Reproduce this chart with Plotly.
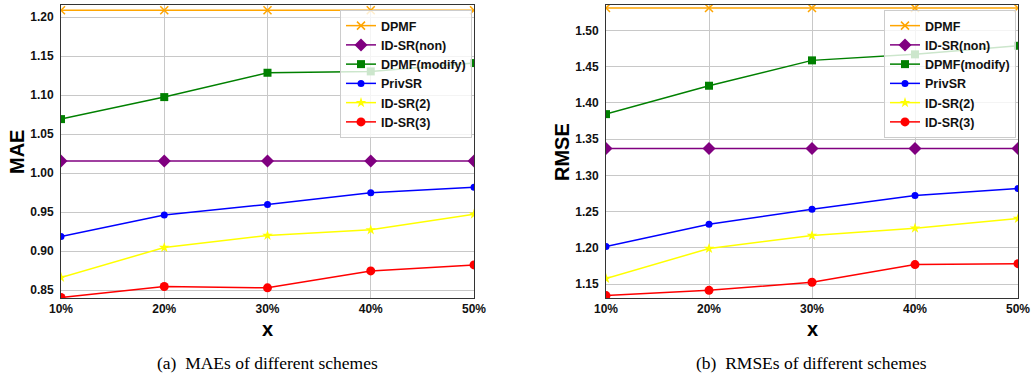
import plotly.graph_objects as go

x_labels = ["10%", "20%", "30%", "40%", "50%"]
series_names = ["DPMF", "ID-SR(non)", "DPMF(modify)", "PrivSR", "ID-SR(2)", "ID-SR(3)"]

mae_dpmf = [1.2086, 1.2086, 1.2086, 1.2086, 1.2086]
mae_idsr_non = [1.0154, 1.0154, 1.0154, 1.0154, 1.0154]
mae_dpmf_mod = [1.0692, 1.0974, 1.1286, 1.1303, 1.1410]
mae_privsr = [0.9188, 0.9462, 0.9599, 0.9747, 0.9820]
mae_idsr2 = [0.8663, 0.9047, 0.9201, 0.9273, 0.9474]
mae_idsr3 = [0.8406, 0.8547, 0.8530, 0.8747, 0.8824]

rmse_dpmf = [1.5308, 1.5308, 1.5308, 1.5308, 1.5308]
rmse_idsr_non = [1.3370, 1.3370, 1.3370, 1.3370, 1.3370]
rmse_dpmf_mod = [1.3844, 1.4236, 1.4586, 1.4669, 1.4787]
rmse_privsr = [1.2017, 1.2324, 1.2531, 1.2720, 1.2817]
rmse_idsr2 = [1.1575, 1.1990, 1.2169, 1.2270, 1.2404]
rmse_idsr3 = [1.1340, 1.1413, 1.1524, 1.1768, 1.1781]

colors = ["#FFA500", "#800080", "#008000", "#0000FF", "#FFFF00", "#FF0000"]
symbols = ["x-thin", "diamond", "square", "circle", "star", "circle"]
msizes = [8, 10, 8, 7, 8, 9]

W, H = 1035, 377
def fx(p): return p / W
def fy(p): return 1 - p / H

fig = go.Figure()

mae_sets = [mae_dpmf, mae_idsr_non, mae_dpmf_mod, mae_privsr, mae_idsr2, mae_idsr3]
rmse_sets = [rmse_dpmf, rmse_idsr_non, rmse_dpmf_mod, rmse_privsr, rmse_idsr2, rmse_idsr3]

def marker(i):
    return dict(symbol=symbols[i], size=msizes[i], color=colors[i],
                line=dict(width=1.5 if symbols[i] == "x-thin" else 0, color=colors[i]))

for i, name in enumerate(series_names):
    fig.add_trace(go.Scatter(x=x_labels, y=mae_sets[i], name=name, mode="lines+markers",
                             line=dict(color=colors[i], width=1.5), marker=marker(i),
                             xaxis="x", yaxis="y", legend="legend"))
for i, name in enumerate(series_names):
    fig.add_trace(go.Scatter(x=x_labels, y=rmse_sets[i], name=name, mode="lines+markers",
                             line=dict(color=colors[i], width=1.5), marker=marker(i),
                             xaxis="x2", yaxis="y2", legend="legend2"))

sans = "Liberation Sans, Arial, sans-serif"
tickfont = dict(family=sans, size=12, color="#111", weight="bold")
axcommon = dict(showgrid=True, gridcolor="#c8c8c8", gridwidth=1, showline=True, linecolor="#333",
                linewidth=1, mirror=True, ticks="", tickfont=tickfont, zeroline=False,
                automargin=False)

legfont = dict(family=sans, size=12.5, color="#111", weight="bold")
fig.update_layout(
    template="none",
    width=W, height=H, margin=dict(l=0, r=0, t=0, b=0, pad=0),
    paper_bgcolor="white", plot_bgcolor="white",
    xaxis=dict(domain=[fx(61), fx(474)], type="category", range=[0, 4], anchor="y", **axcommon),
    yaxis=dict(domain=[fy(298), fy(5)], range=[0.840, 1.2154], dtick=0.05, tickformat=".2f",
               anchor="x", ticklabelstandoff=4, **axcommon),
    xaxis2=dict(domain=[fx(606), fx(1018)], type="category", range=[0, 4], anchor="y2", **axcommon),
    yaxis2=dict(domain=[fy(298), fy(5)], range=[1.1307, 1.535], dtick=0.05, tickformat=".2f",
                anchor="x2", ticklabelstandoff=4, **axcommon),
    legend=dict(x=fx(340), y=fy(10), xanchor="left", yanchor="top",
                bgcolor="rgba(255,255,255,0.8)", bordercolor="#cccccc", borderwidth=1,
                font=legfont, tracegroupgap=0, itemwidth=30),
    legend2=dict(x=fx(884), y=fy(10), xanchor="left", yanchor="top",
                 bgcolor="rgba(255,255,255,0.8)", bordercolor="#cccccc", borderwidth=1,
                 font=legfont, tracegroupgap=0, itemwidth=30),
    showlegend=True,
)

title_font = dict(family=sans, size=20, color="black", weight="bold")
def ann(text, x, y, font, angle=0):
    fig.add_annotation(text=text, x=fx(x), y=fy(y), xref="paper", yref="paper", textangle=angle,
                       xanchor="center", yanchor="middle", showarrow=False, font=font)

ann("MAE", 17, 152, title_font, -90)
ann("RMSE", 562, 152, title_font, -90)
ann("x", 267, 329, title_font)
ann("x", 812, 329, title_font)
cap_font = dict(family="Liberation Serif, Times New Roman, serif", size=17.5, color="black")
ann("(a)  MAEs of different schemes", 267, 363, cap_font)
ann("(b)  RMSEs of different schemes", 811, 363, cap_font)

fig.write_html("out.html", config={"displayModeBar": False},
               post_script="document.body.style.margin='0';document.body.style.overflow='hidden';")
